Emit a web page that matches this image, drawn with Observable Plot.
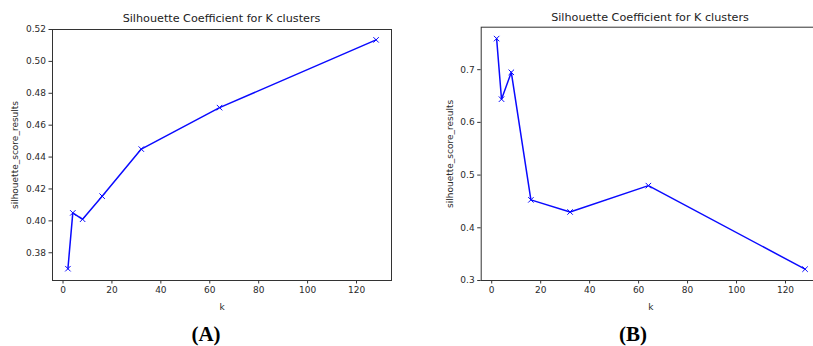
<!DOCTYPE html>
<html><head><meta charset="utf-8">
<script src="https://cdn.jsdelivr.net/npm/d3@7"></script>
<script src="https://cdn.jsdelivr.net/npm/@observablehq/plot@0.6"></script>
<style>
body{margin:0;background:#fff;overflow:hidden;}
#wrap{position:relative;width:813px;height:346px;overflow:hidden;font-family:"DejaVu Sans",sans-serif;background:#fff;}
.panel{position:absolute;top:0;}
.title{position:absolute;font-size:11.2px;color:#222;white-space:nowrap;transform:translate(-50%,-50%);}
.tag{position:absolute;font-family:"Liberation Serif","Times New Roman",serif;font-weight:bold;font-size:21px;color:#000;white-space:nowrap;transform:translate(-50%,-50%);}
</style></head><body>
<div id="wrap"></div>
<script>
const kValues = [2, 4, 8, 16, 32, 64, 128];
const scoresA = [0.370, 0.405, 0.401, 0.4155, 0.445, 0.471, 0.5135];
const scoresB = [0.759, 0.644, 0.695, 0.453, 0.430, 0.480, 0.3215];
const xTicks = [0, 20, 40, 60, 80, 100, 120];
const yTicksA = [0.38, 0.40, 0.42, 0.44, 0.46, 0.48, 0.50, 0.52];
const yTicksB = [0.3, 0.4, 0.5, 0.6, 0.7];
const titleText = "Silhouette Coefficient for K clusters";
const xLabel = "k";
const yLabel = "silhouette_score_results";
const panelTags = ["(A)", "(B)"];

const wrap = document.getElementById("wrap");

function panel({scores, yTicks, yFmt, yDomain, left, width, marginLeft, marginRight, marginTop, labelOffsetY}) {
  const data = kValues.map((k, i) => ({k, s: scores[i]}));
  const chart = Plot.plot({
    width, height: 346,
    marginLeft, marginRight, marginTop, marginBottom: 66,
    style: {fontFamily: "DejaVu Sans, sans-serif", fontSize: "9px", color: "#2a2a2a", background: "transparent", overflow: "visible"},
    x: {domain: [-4.3, 134.3]},
    y: {domain: yDomain},
    marks: [
      Plot.axisX({ticks: xTicks, tickSize: 3.5, tickPadding: 2.5, tickFormat: d3.format("d"), label: xLabel, labelAnchor: "center", labelArrow: "none", labelOffset: 29, stroke: "#333"}),
      Plot.axisY({ticks: yTicks, tickSize: 3.5, tickPadding: 3, tickFormat: d3.format(yFmt), label: yLabel, labelAnchor: "center", labelArrow: "none", labelOffset: labelOffsetY, stroke: "#333"}),
      Plot.frame({stroke: "#333", strokeWidth: 1}),
      Plot.line(data, {x: "k", y: "s", stroke: "#0a0aff", strokeWidth: 1.5}),
      Plot.dot(data, {x: "k", y: "s", symbol: "times", r: 2.6, stroke: "#0a0aff", strokeWidth: 1})
    ]
  });
  chart.classList.add("panel");
  chart.style.left = left + "px";
  wrap.appendChild(chart);
}

panel({scores: scoresA, yTicks: yTicksA, yFmt: ".2f", yDomain: [0.3626, 0.5200], left: 0, width: 410, marginLeft: 52, marginRight: 19, marginTop: 29, labelOffsetY: 41});
panel({scores: scoresB, yTicks: yTicksB, yFmt: ".1f", yDomain: [0.3, 0.7806], left: 410, width: 410, marginLeft: 70.7, marginRight: 0, marginTop: 26.7, labelOffsetY: 35});

function addText(cls, text, x, y) {
  const d = document.createElement("div");
  d.className = cls; d.textContent = text;
  d.style.left = x + "px"; d.style.top = y + "px";
  wrap.appendChild(d);
}
addText("title", titleText, 221.5, 17.5);
addText("title", titleText, 650, 16.5);
addText("tag", panelTags[0], 206, 334);
addText("tag", panelTags[1], 633, 334);
</script>
</body></html>
